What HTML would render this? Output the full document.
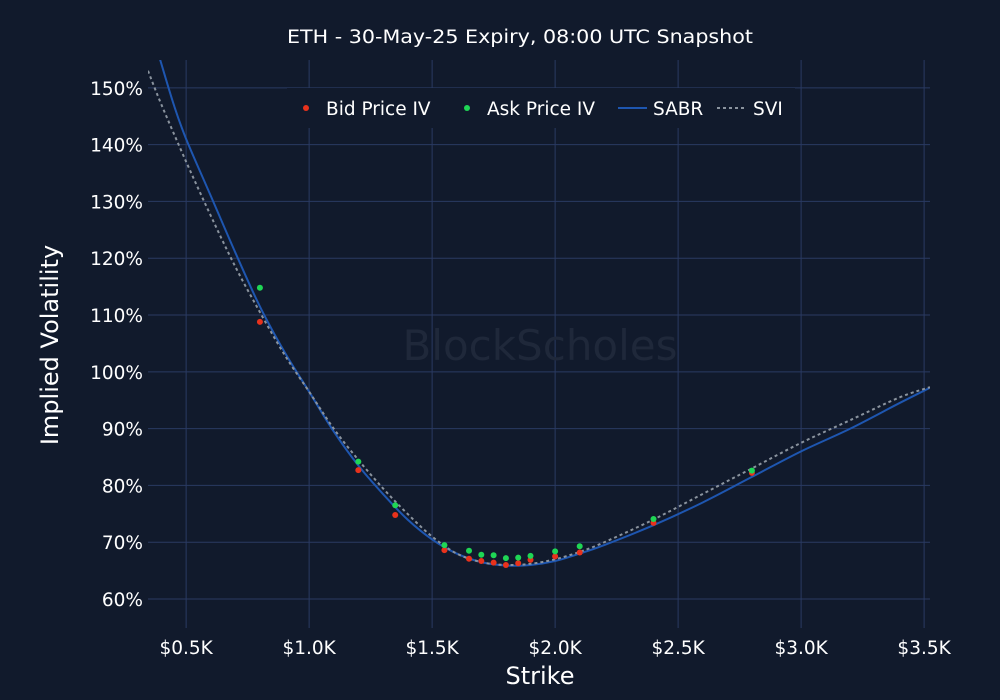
<!DOCTYPE html>
<html><head><meta charset="utf-8"><style>
html,body{margin:0;padding:0;background:#111a2c;}
svg{display:block;font-family:"DejaVu Sans","Liberation Sans",sans-serif;}
</style></head><body>
<svg id="chart" width="1000" height="700" viewBox="0 0 1000 700">
<rect width="1000" height="700" fill="#111a2c"/>
<g id="grid"></g>
<text x="540" y="360" text-anchor="middle" font-size="42" fill="#1f283a">BlockScholes</text>
<g id="marks"></g>
<g id="ticks"></g>
<text x="287" y="43" font-size="18.5" fill="#ffffff" textLength="466" lengthAdjust="spacingAndGlyphs">ETH - 30-May-25 Expiry, 08:00 UTC Snapshot</text>
<text x="540" y="684" text-anchor="middle" font-size="24" fill="#ffffff">Strike</text>
<text transform="translate(58,345) rotate(-90)" text-anchor="middle" font-size="24" fill="#ffffff">Implied Volatility</text>
<g>
<rect x="287" y="88" width="508" height="40" fill="#111a2c"/>
<g><circle cx="306" cy="108" r="3" fill="#e8321c"/><text x="326" y="115" font-size="18.5" fill="#fff">Bid Price IV</text></g>
<g><circle cx="467" cy="108" r="3" fill="#1fd655"/><text x="487" y="115" font-size="18.5" fill="#fff">Ask Price IV</text></g>
<g><line x1="618" y1="108" x2="647" y2="108" stroke="#1e56b0" stroke-width="2"/><text x="653" y="115" font-size="18.5" fill="#fff">SABR</text></g>
<g><line x1="717" y1="108" x2="745" y2="108" stroke="#8a939e" stroke-width="2" stroke-dasharray="3,3"/><text x="753" y="115" font-size="18.5" fill="#fff">SVI</text></g>
</g>
</svg>
<script>
const strikes=[800,1200,1350,1550,1650,1700,1750,1800,1850,1900,2000,2100,2400,2800];
const bidIV=[108.8,82.7,74.8,68.6,67.1,66.7,66.4,66.0,66.3,66.9,67.5,68.2,73.4,82.2];
const askIV=[114.8,84.2,76.5,69.5,68.5,67.8,67.7,67.2,67.3,67.6,68.4,69.3,74.1,82.6];
const sabrK=[394,450,500,600,700,800,900,1000,1100,1200,1300,1400,1500,1600,1700,1800,1900,2000,2100,2200,2400,2600,2800,3000,3200,3400,3524];
const sabrV=[155,147,141,131,121,111.5,103.5,96.5,89.5,83.5,78.5,74,70.5,68,66.5,65.9,66.0,66.7,68,69.5,73,77,81.5,86,90,94.5,97.2];
const sviK=[345,400,500,600,700,800,900,1000,1100,1200,1300,1400,1500,1600,1700,1800,1900,2000,2100,2200,2400,2600,2800,3000,3200,3400,3524];
const sviV=[153,147,137,127.5,118.5,110.5,103,96.5,90,84.5,79.5,75,71,68,66.5,66,66.2,67,68.3,70,74,78.5,83,87.5,91.5,95.5,97.3];
const xTicks=[500,1000,1500,2000,2500,3000,3500];
const xTickLabels=["$0.5K","$1.0K","$1.5K","$2.0K","$2.5K","$3.0K","$3.5K"];
const yTicks=[60,70,80,90,100,110,120,130,140,150];
const yTickLabels=["60%","70%","80%","90%","100%","110%","120%","130%","140%","150%"];

const PL=148,PR=930,PT=60,PB=628;
const xMin=345,xMax=3524,yMin=54.9,yMax=154.9;
const X=v=>PL+(v-xMin)/(xMax-xMin)*(PR-PL);
const Y=v=>PB-(v-yMin)/(yMax-yMin)*(PB-PT);
const NS="http://www.w3.org/2000/svg";
function mk(tag,attrs,parent){const e=document.createElementNS(NS,tag);for(const k in attrs)e.setAttribute(k,attrs[k]);parent.appendChild(e);return e;}
const grid=document.getElementById('grid'),ticks=document.getElementById('ticks'),marks=document.getElementById('marks');
xTicks.forEach((t,i)=>{
  const l=mk('line',{x1:X(t),x2:X(t),y1:PT,y2:PB,stroke:'#2a3a62','stroke-width':1},grid);
  
  
  const tx=mk('text',{x:X(t),y:654,'text-anchor':'middle','font-size':18.5,fill:'#fff'},ticks);
  tx.textContent=xTickLabels[i];
  
  
});
yTicks.forEach((t,i)=>{
  const l=mk('line',{x1:PL,x2:PR,y1:Y(t),y2:Y(t),stroke:'#2a3a62','stroke-width':1},grid);
  
  
  const tx=mk('text',{x:143,y:Y(t)+7,'text-anchor':'end','font-size':18.5,fill:'#fff'},ticks);
  tx.textContent=yTickLabels[i];
  
  
});
function smooth(ks,vs){
  const p=ks.map((k,i)=>[X(k),Y(vs[i])]);
  let d='M'+p[0][0]+','+p[0][1];
  for(let i=0;i<p.length-1;i++){
    const p0=p[i-1]||p[i],p1=p[i],p2=p[i+1],p3=p[i+2]||p[i+1];
    const c1=[p1[0]+(p2[0]-p0[0])/6,p1[1]+(p2[1]-p0[1])/6];
    const c2=[p2[0]-(p3[0]-p1[0])/6,p2[1]-(p3[1]-p1[1])/6];
    d+=`C${c1[0]},${c1[1]} ${c2[0]},${c2[1]} ${p2[0]},${p2[1]}`;
  }
  return d;
}
const clip=mk('clipPath',{id:'pc'},marks);mk('rect',{x:PL,y:PT,width:PR-PL,height:PB-PT},clip);
const sabr=mk('path',{d:smooth(sabrK,sabrV),fill:'none',stroke:'#1e56b0','stroke-width':2,'clip-path':'url(#pc)'},marks);


const svi=mk('path',{d:smooth(sviK,sviV),fill:'none',stroke:'#8a939e','stroke-width':2,'stroke-dasharray':'3,3','clip-path':'url(#pc)'},marks);


strikes.forEach((k,i)=>{
  const b=mk('circle',{cx:X(k),cy:Y(bidIV[i]),r:3,fill:'#e8321c'},marks);
  
  
});
strikes.forEach((k,i)=>{
  const a=mk('circle',{cx:X(k),cy:Y(askIV[i]),r:3,fill:'#1fd655'},marks);
  
  
});
</script>
</body></html>
